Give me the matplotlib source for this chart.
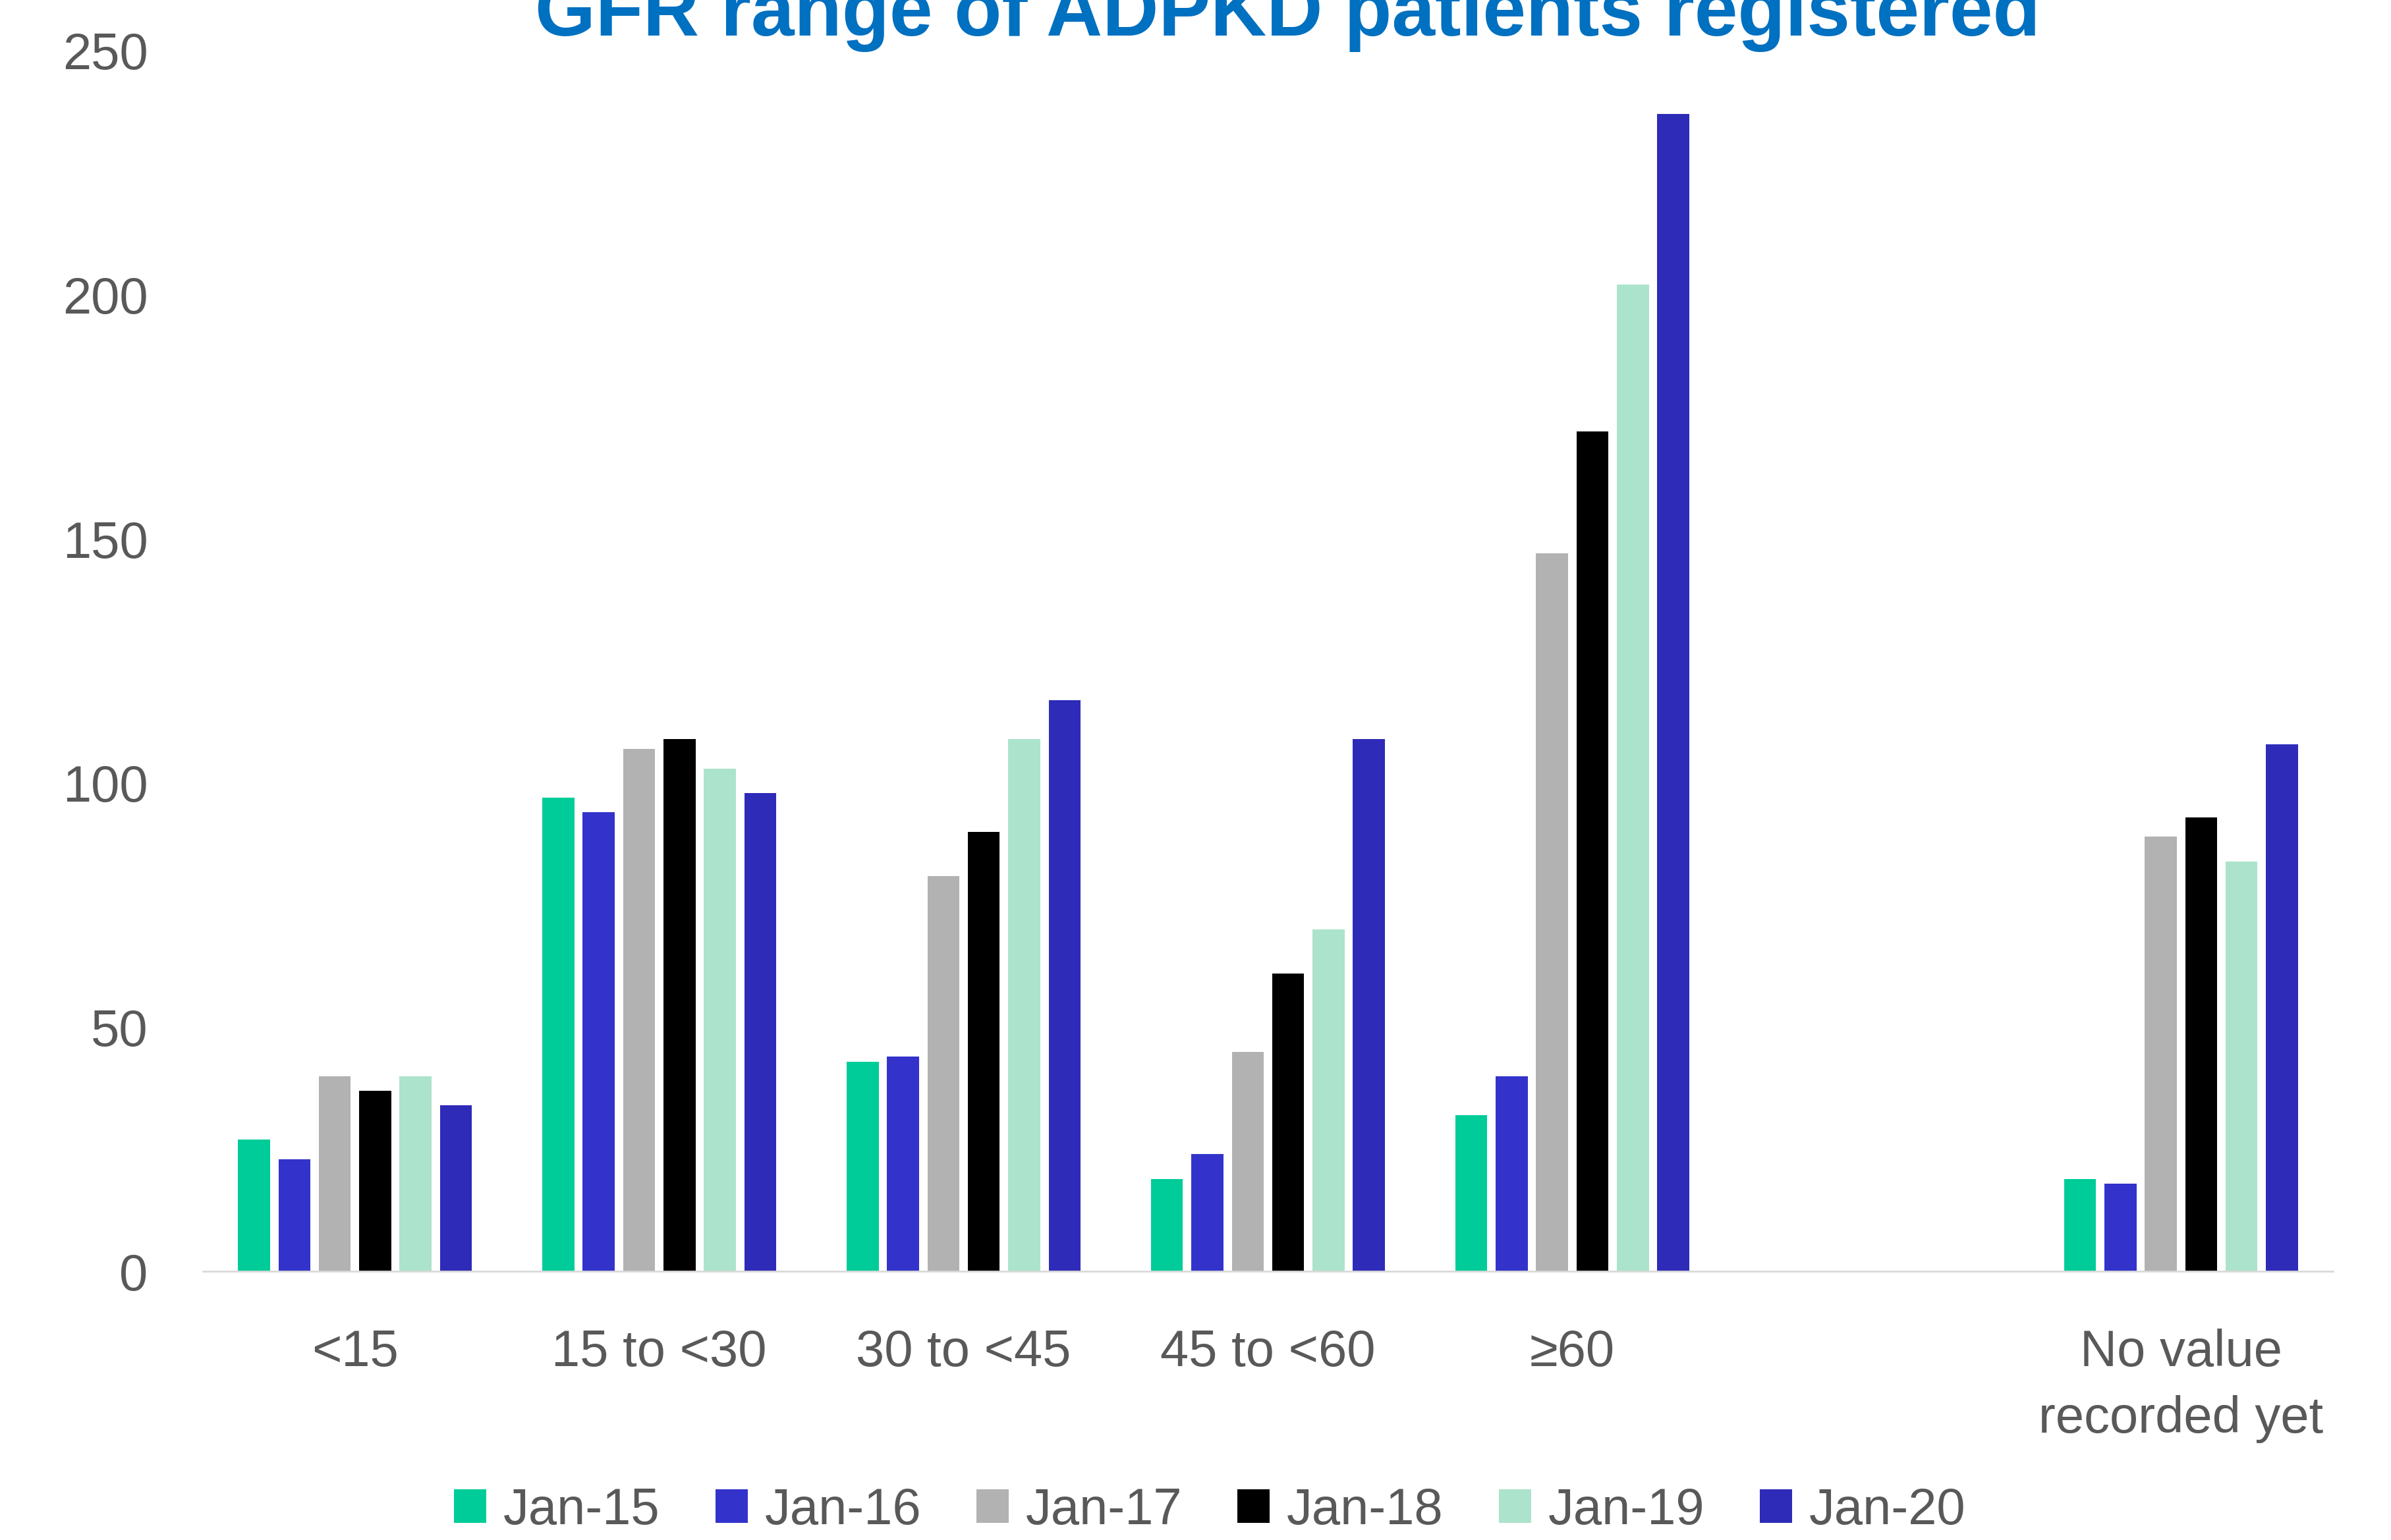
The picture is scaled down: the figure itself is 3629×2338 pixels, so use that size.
import matplotlib.pyplot as plt
import numpy as np

# donnees
categories = ["<15", "15 to <30", "30 to <45", "45 to <60", "≥60", "", "No value\nrecorded yet"]
series = ["Jan-15", "Jan-16", "Jan-17", "Jan-18", "Jan-19", "Jan-20"]
jan15 = [27, 97, 43, 19, 32, 0, 19]
jan16 = [23, 94, 44, 24, 40, 0, 18]
jan17 = [40, 107, 81, 45, 147, 0, 89]
jan18 = [37, 109, 90, 61, 172, 0, 93]
jan19 = [40, 103, 109, 70, 202, 0, 84]
jan20 = [34, 98, 117, 109, 237, 0, 108]
values = [jan15, jan16, jan17, jan18, jan19, jan20]
colors = ["#00CC99", "#3333CC", "#B2B2B2", "#000000", "#ACE3CC", "#2E2BB8"]

plt.rcParams['font.family'] = ['Liberation Sans', 'DejaVu Sans']
grey = "#595959"
fs = 56

fig = plt.figure(figsize=(36.29, 23.38), dpi=100)
ax = fig.add_axes([0.0848, 0.1743, 0.891, 0.793])

x = np.arange(len(categories))
step = 0.1327
width = 0.105
for i in range(len(series)):
    ax.bar(x + (i - 2.5) * step, values[i], width=width, color=colors[i], label=series[i])

ax.set_xlim(-0.5, len(categories) - 0.5)
ax.set_ylim(0, 250)
ax.set_yticks([0, 50, 100, 150, 200, 250])
ax.set_xticks(x)
ax.set_xticklabels(categories, linespacing=1.5)
ax.tick_params(axis='x', length=0, pad=62, labelsize=fs, labelcolor=grey)
ax.tick_params(axis='y', length=0, pad=60, labelsize=fs, labelcolor=grey)
for s in ['top', 'right', 'left']:
    ax.spines[s].set_visible(False)
ax.spines['bottom'].set_color("#D9D9D9")
ax.spines['bottom'].set_linewidth(2)

# titre coupe en haut comme sur l'original
fig.text(0.5385, 0.977, "GFR range of ADPKD patients registered", ha='center', va='baseline',
         fontsize=85, fontweight='bold', color="#0070C0")

fig.legend(loc='center', bbox_to_anchor=(0.506, 0.019), ncol=6, frameon=False,
           fontsize=fs, labelcolor=grey, handlelength=0.63, handleheight=0.63,
           handletextpad=0.33, columnspacing=1.08)

plt.savefig("out.png", dpi=100)
